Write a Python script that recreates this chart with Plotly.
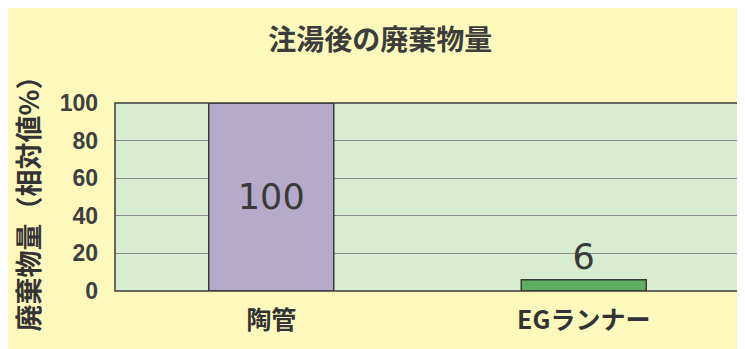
import plotly.graph_objects as go

categories = ['陶管', 'EGランナー']
values = [100, 6]
value_labels = ['100', '6']
bar_colors = ['#b6aacb', '#5eae62']
y_ticks = [0, 20, 40, 60, 80, 100]

FONT = 'Noto Sans CJK JP'

fig = go.Figure()
fig.add_trace(go.Bar(
    x=categories,
    y=values,
    width=0.4,
    marker=dict(color=bar_colors, line=dict(color='#3a3a3a', width=1.5)),
    text=value_labels,
    textposition=['inside', 'outside'],
    insidetextanchor='middle',
    textfont=dict(family='DejaVu Sans', size=35, color='#3a3a3a'),
    cliponaxis=False,
    showlegend=False,
))

# the page body adds an 8px white edge on the top and left,
# which stands in for the white scan border of the original
fig.update_layout(
    width=737,
    height=341,
    margin=dict(l=107, r=5, t=95, b=58, autoexpand=False),
    paper_bgcolor='#fdf9bd',
    plot_bgcolor='#d8edd0',
    title=dict(
        text='<b>注湯後の廃棄物量</b>',
        x=0.505, xanchor='center', y=0.905, yanchor='middle',
        font=dict(family=FONT, size=28, color='#3c3c3c'),
    ),
    bargap=0.6,
    shapes=[dict(type='rect', xref='paper', yref='paper', x0=0, x1=1, y0=0, y1=1,
                 line=dict(color='#3a3a3a', width=1.5))],
)
fig.update_xaxes(
    automargin=False,
    showgrid=False,
    ticktext=['<b>%s</b>' % c for c in categories],
    tickvals=categories,
    tickfont=dict(family=FONT, size=25, color='#333333'),
    ticklabelstandoff=12,
)
fig.update_yaxes(
    automargin=False,
    range=[0, 100],
    tickvals=y_ticks,
    ticktext=['<b>%d</b>' % v for v in y_ticks],
    tickfont=dict(family='Liberation Sans, Arial', size=23, color='#404040'),
    ticklabelstandoff=16,
    showgrid=True,
    gridcolor='#8a8a8a',
    gridwidth=1,
    zeroline=False,
    title=dict(
        text='<b>廃棄物量（相対値%）</b>',
        font=dict(family=FONT, size=27, color='#333333'),
        standoff=12,
    ),
)

fig.write_html('out.html')
